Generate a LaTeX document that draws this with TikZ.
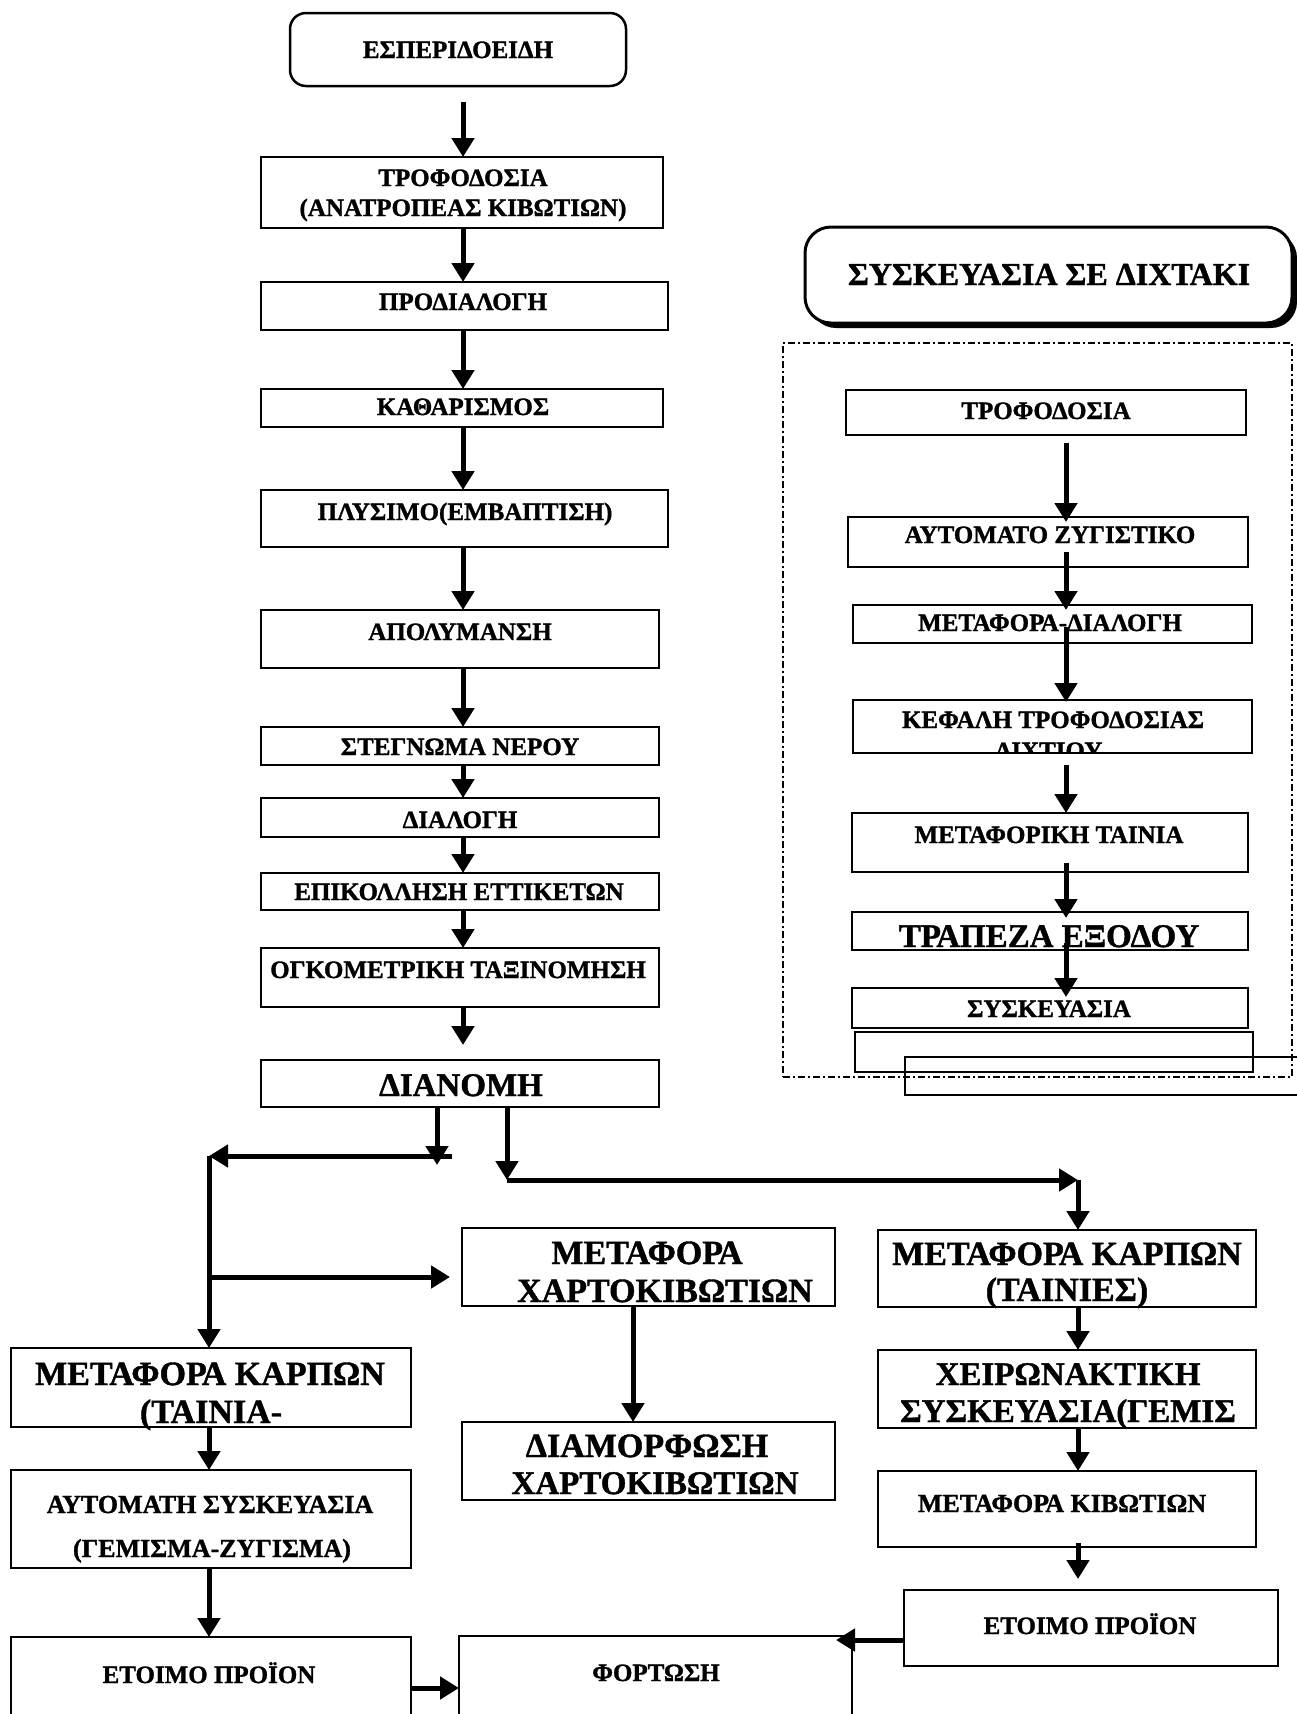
\documentclass[tikz,border=0pt]{standalone}
\usepackage{fontspec}
\setmainfont{Liberation Serif}[BoldFeatures={FakeBold=1.2}]
\usetikzlibrary{arrows.meta,fit}
\newcommand{\myfs}[1]{\fontsize{#1}{#1}\selectfont\bfseries}
\begin{document}
\begin{tikzpicture}[x=1pt,y=-1pt,
  box/.style={draw, line width=2.5pt, inner sep=0pt, outer sep=0pt, rectangle},
  txt/.style={inner sep=0pt, anchor=base, font=\myfs{25}},
  big/.style={inner sep=0pt, anchor=base, font=\myfs{34}},
  arr/.style={line width=5pt, -{Triangle[length=19pt,width=22pt]}},
  panelstyle/.style={draw, line width=1.8pt, dash pattern=on 7pt off 3pt on 2pt off 3pt, inner sep=0pt, outer sep=0pt}
]
\fill[white] (0,0) rectangle (1297,1714);
\useasboundingbox (0,0) rectangle (1297,1714);

% ---------- main column ----------
\coordinate (mc) at (463,0);
\node[box, rounded corners=16pt, fit={(290,13) (626,86)}] (esp) {};
\node[txt] (esp-t) at (458,58) {ΕΣΠΕΡΙΔΟΕΙΔΗ};
\node[box, fit={(261,157) (663,228)}] (trof) {};
\node[txt] (trof-t1) at (463,186) {ΤΡΟΦΟΔΟΣΙΑ};
\node[txt] (trof-t2) at (463,216) {(ΑΝΑΤΡΟΠΕΑΣ ΚΙΒΩΤΙΩΝ)};
\node[box, fit={(261,282) (668,330)}] (prod) {};
\node[txt] (prod-t) at (463,310) {ΠΡΟΔΙΑΛΟΓΗ};
\node[box, fit={(261,389) (663,427)}] (kath) {};
\node[txt] (kath-t) at (463,415) {ΚΑΘΑΡΙΣΜΟΣ};
\node[box, fit={(261,490) (668,547)}] (ply) {};
\node[txt] (ply-t) at (465,520) {ΠΛΥΣΙΜΟ(ΕΜΒΑΠΤΙΣΗ)};
\node[box, fit={(261,610) (659,668)}] (apo) {};
\node[txt] (apo-t) at (460,640) {ΑΠΟΛΥΜΑΝΣΗ};
\node[box, fit={(261,727) (659,765)}] (steg) {};
\node[txt] (steg-t) at (460,755) {ΣΤΕΓΝΩΜΑ ΝΕΡΟΥ};
\node[box, fit={(261,798) (659,837)}] (dial) {};
\node[txt] (dial-t) at (460,828) {ΔΙΑΛΟΓΗ};
\node[box, fit={(261,873) (659,910)}] (epik) {};
\node[txt] (epik-t) at (459,900) {ΕΠΙΚΟΛΛΗΣΗ ΕΤΤΙΚΕΤΩΝ};
\node[box, fit={(261,948) (659,1007)}] (ogk) {};
\node[txt] (ogk-t) at (458,978) {ΟΓΚΟΜΕΤΡΙΚΗ ΤΑΞΙΝΟΜΗΣΗ};
\node[box, fit={(261,1060) (659,1107)}] (dian) {};
\node[big, font=\myfs{33}] (dian-t) at (461,1096) {ΔΙΑΝΟΜΗ};

\draw[arr, shorten <=16pt] (esp.south -| mc) -- (trof.north -| mc);
\draw[arr] (trof.south -| mc) -- (prod.north -| mc);
\draw[arr] (prod.south -| mc) -- (kath.north -| mc);
\draw[arr] (kath.south -| mc) -- (ply.north -| mc);
\draw[arr] (ply.south -| mc) -- (apo.north -| mc);
\draw[arr] (apo.south -| mc) -- (steg.north -| mc);
\draw[arr] (steg.south -| mc) -- (dial.north -| mc);
\draw[arr] (dial.south -| mc) -- (epik.north -| mc);
\draw[arr] (epik.south -| mc) -- (ogk.north -| mc);
\draw[arr, shorten >=15pt] (ogk.south -| mc) -- (dian.north -| mc);

% ---------- right panel ----------
\fill[rounded corners=26pt] (810,232) rectangle (1297,328);
\node[box, fill=white, line width=3pt, rounded corners=26pt, fit={(805,227) (1292,323)}] (title) {};
\node[txt, font=\myfs{32}] (title-t) at (1049,285) {ΣΥΣΚΕΥΑΣΙΑ ΣΕ ΔΙΧΤΑΚΙ};
\node[panelstyle, fit={(783,343) (1292,1077)}] (panel) {};

\coordinate (rc) at (1066,0);
\node[box, fit={(846,390) (1246,435)}] (rtrof) {};
\node[txt] (rtrof-t) at (1046,419) {ΤΡΟΦΟΔΟΣΙΑ};
\node[box, fit={(848,517) (1248,567)}] (raz) {};
\node[txt] (raz-t) at (1050,543) {ΑΥΤΟΜΑΤΟ ΖΥΓΙΣΤΙΚΟ};
\node[box, fit={(853,605) (1252,643)}] (rmd) {};
\node[txt] (rmd-t) at (1050,631) {ΜΕΤΑΦΟΡΑ-ΔΙΑΛΟΓΗ};
\node[box, fit={(853,700) (1252,753)}] (rkt) {};
\node[txt] (rkt-t1) at (1053,728) {ΚΕΦΑΛΗ ΤΡΟΦΟΔΟΣΙΑΣ};
\begin{scope}
\clip (853,700) rectangle (1252,753);
\node[txt] (rkt-t2) at (1049,759) {ΔΙΧΤΙΟΥ};
\end{scope}
\node[box, fit={(852,813) (1248,872)}] (rmt) {};
\node[txt] (rmt-t) at (1049,843) {ΜΕΤΑΦΟΡΙΚΗ ΤΑΙΝΙΑ};
\node[box, fit={(852,912) (1248,950)}] (rte) {};
\node[big, font=\myfs{33}] (rte-t) at (1049,947) {ΤΡΑΠΕΖΑ ΕΞΟΔΟΥ};
\node[box, fit={(852,988) (1248,1028)}] (rsy) {};
\node[txt] (rsy-t) at (1049,1017) {ΣΥΣΚΕΥΑΣΙΑ};
\node[box, fit={(855,1032) (1253,1072)}] (re1) {};
\node[box, fit={(905,1057) (1330,1095)}] (re2) {};

\draw[arr, shorten <=8pt, shorten >=-5pt] (rtrof.south -| rc) -- (raz.north -| rc);
\draw[arr, shorten <=-15pt, shorten >=-5pt] (raz.south -| rc) -- (rmd.north -| rc);
\draw[arr, shorten <=-16pt, shorten >=-2pt] (rmd.south -| rc) -- (rkt.north -| rc);
\draw[arr, shorten <=12pt] (rkt.south -| rc) -- (rmt.north -| rc);
\draw[arr, shorten <=-9pt, shorten >=-6pt] (rmt.south -| rc) -- (rte.north -| rc);
\draw[arr, shorten <=-7pt, shorten >=-9pt] (rte.south -| rc) -- (rsy.north -| rc);

% ---------- lower part ----------
\node[box, fit={(11,1348) (411,1427)}] (mkl) {};
\node[big] (mkl-t1) at (210,1385) {ΜΕΤΑΦΟΡΑ ΚΑΡΠΩΝ};
\node[big] (mkl-t2) at (211,1423) {(ΤΑΙΝΙΑ-};
\node[box, fit={(11,1470) (411,1568)}] (aut) {};
\node[txt, font=\myfs{26}] (aut-t1) at (210,1513) {ΑΥΤΟΜΑΤΗ ΣΥΣΚΕΥΑΣΙΑ};
\node[txt, font=\myfs{26}] (aut-t2) at (212,1557) {(ΓΕΜΙΣΜΑ-ΖΥΓΙΣΜΑ)};
\node[box, fit={(11,1637) (411,1760)}] (etl) {};
\node[txt] (etl-t) at (209,1683) {ΕΤΟΙΜΟ ΠΡΟΪΟΝ};
\node[box, fit={(462,1228) (835,1306)}] (mxa) {};
\node[big] (mxa-t1) at (647,1264) {ΜΕΤΑΦΟΡΑ};
\node[big] (mxa-t2) at (665,1302) {ΧΑΡΤΟΚΙΒΩΤΙΩΝ};
\node[box, fit={(462,1422) (835,1500)}] (dxa) {};
\node[big] (dxa-t1) at (647,1457) {ΔΙΑΜΟΡΦΩΣΗ};
\node[big, font=\myfs{33}] (dxa-t2) at (655,1494) {ΧΑΡΤΟΚΙΒΩΤΙΩΝ};
\node[box, fit={(878,1230) (1256,1307)}] (mkr) {};
\node[big] (mkr-t1) at (1067,1265) {ΜΕΤΑΦΟΡΑ ΚΑΡΠΩΝ};
\node[big] (mkr-t2) at (1067,1301) {(ΤΑΙΝΙΕΣ)};
\node[box, fit={(878,1350) (1256,1428)}] (xei) {};
\node[big, font=\myfs{33}] (xei-t1) at (1068,1385) {ΧΕΙΡΩΝΑΚΤΙΚΗ};
\node[big, font=\myfs{33}] (xei-t2) at (1068,1422) {ΣΥΣΚΕΥΑΣΙΑ(ΓΕΜΙΣ};
\node[box, fit={(878,1471) (1256,1547)}] (mki) {};
\node[txt, font=\myfs{26}] (mki-t) at (1062,1512) {ΜΕΤΑΦΟΡΑ ΚΙΒΩΤΙΩΝ};
\node[box, fit={(904,1590) (1278,1666)}] (etr) {};
\node[txt] (etr-t) at (1090,1634) {ΕΤΟΙΜΟ ΠΡΟΪΟΝ};
\node[box, fit={(459,1636) (852,1760)}] (fort) {};
\node[txt] (fort-t) at (656,1681) {ΦΟΡΤΩΣΗ};

% junctions
\coordinate (j1) at (437,1165);
\coordinate (j2a) at (452,1156);
\coordinate (j2) at (209,1156);
\coordinate (j3) at (209,1277);
\coordinate (j4) at (507,1180);
\coordinate (j5) at (1078,1180);
\coordinate (bl) at (209,0);
\coordinate (xc) at (633,0);
\coordinate (rx) at (1078,0);
\coordinate (hb) at (0,1688);
\coordinate (hf) at (836,1640);

\draw[arr] (dian.south -| j1) -- (j1);
\draw[arr] (j2a) -- (j2);
\draw[arr] (j2) -- (mkl.north -| j2);
\draw[arr, shorten >=12pt] (j3) -- (mxa.west |- j3);
\draw[arr] (dian.south -| j4) -- (j4);
\draw[arr] (j4) -- (j5);
\draw[arr] (j5) -- (mkr.north -| j5);

\draw[arr] (mkl.south -| bl) -- (aut.north -| bl);
\draw[arr] (aut.south -| bl) -- (etl.north -| bl);
\draw[arr] (etl.east |- hb) -- (fort.west |- hb);
\draw[arr] (mxa.south -| xc) -- (dxa.north -| xc);
\draw[arr] (mkr.south -| rx) -- (xei.north -| rx);
\draw[arr] (xei.south -| rx) -- (mki.north -| rx);
\draw[arr, shorten <=-4pt, shorten >=11pt] (mki.south -| rx) -- (etr.north -| rx);
\draw[arr] (etr.west |- hf) -- (hf);
\end{tikzpicture}
\end{document}
